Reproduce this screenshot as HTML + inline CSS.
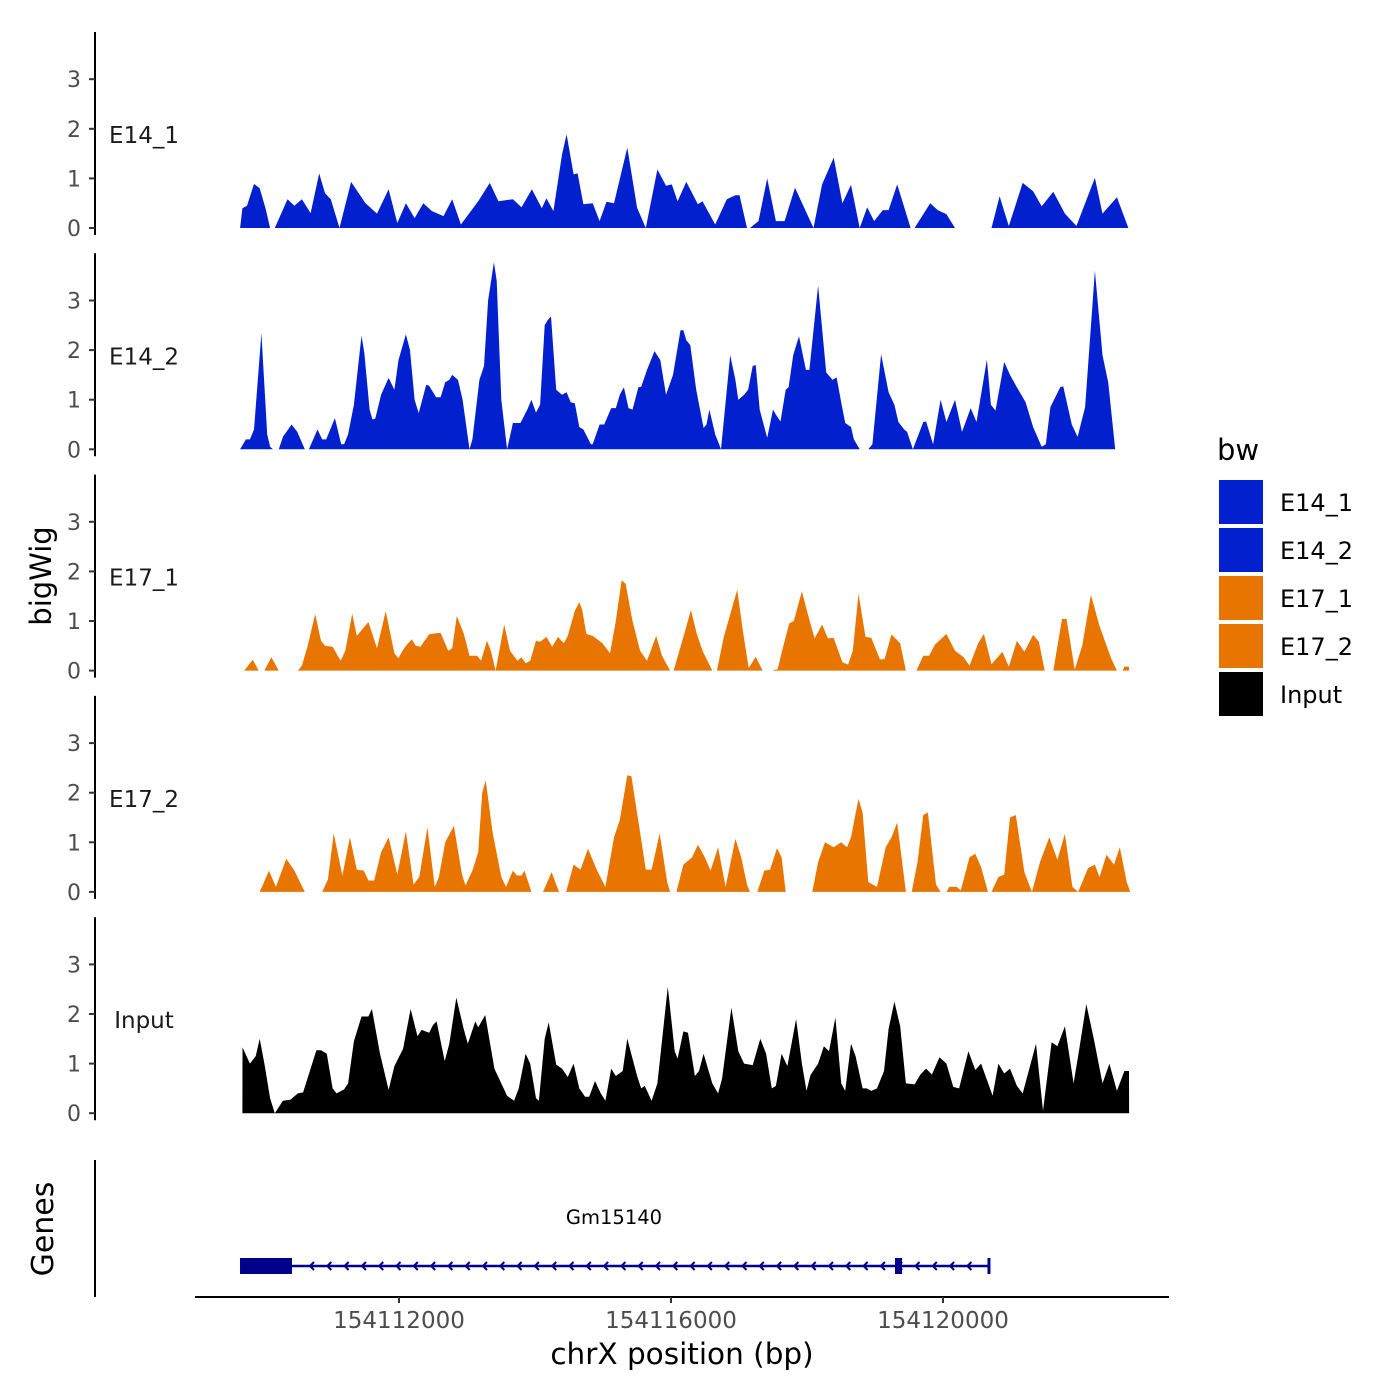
<!DOCTYPE html>
<html><head><meta charset="utf-8"><style>
body{margin:0;background:#fff}
svg{display:block;font-family:"DejaVu Sans","Liberation Sans",sans-serif}
</style></head><body>
<svg id="chart" width="1400" height="1400" viewBox="0 0 1400 1400" xmlns="http://www.w3.org/2000/svg">
<rect width="1400" height="1400" fill="#fff"/>
<g id="tracks"></g>
<g id="genes"></g>
<g id="xaxis"></g>
<text transform="translate(51,576) rotate(-90)" text-anchor="middle" font-size="29" fill="#000">bigWig</text>
<text transform="translate(53,1229) rotate(-90)" text-anchor="middle" font-size="30" fill="#000">Genes</text>
<text x="682" y="1364" text-anchor="middle" font-size="29.5" fill="#000">chrX position (bp)</text>
<g>
<text x="1217" y="460" font-size="29">bw</text>
<rect x="1219" y="480" width="44" height="44" fill="#0320CF"/>
<rect x="1219" y="528" width="44" height="44" fill="#0320CF"/>
<rect x="1219" y="576" width="44" height="44" fill="#E87500"/>
<rect x="1219" y="624" width="44" height="44" fill="#E87500"/>
<rect x="1219" y="672" width="44" height="44" fill="#000"/>
<text x="1280" y="511" font-size="24">E14_1</text>
<text x="1280" y="559" font-size="24">E14_2</text>
<text x="1280" y="607" font-size="24">E17_1</text>
<text x="1280" y="655" font-size="24">E17_2</text>
<text x="1280" y="703" font-size="24">Input</text>
</g>
</svg>
<script>
const CHR_BASE = 154000000;
const trackNames = ["E14_1","E14_2","E17_1","E17_2","Input"];
const trackColors = ["#0320CF","#0320CF","#E87500","#E87500","#000000"];
const yTicks = [0,1,2,3];
const xTicks = [154112000,154116000,154120000];
const xTickLabels = ["154112000","154116000","154120000"];
const geneName = "Gm15140";
const geneStart = 154109662, geneEnd = 154120676;
const geneExons = [[154109662,154110426],[154119294,154119397]];

const e14_1_pos=[109663,109697,109765,109867,109952,110037,110105,null,110173,110360,110462,110572,110700,110827,110912,110997,111125,111295,111507,111677,111847,111975,112102,112230,112357,112485,112655,112782,112910,113165,113335,113462,113675,113802,113955,114100,114168,114270,114397,114465,114567,114627,114712,114848,114950,115052,115162,115358,115502,115630,115800,115927,116012,116097,116225,116395,116463,116650,116820,116947,117007,117117,null,117160,117287,117415,117542,117670,117823,118095,118222,118392,118520,118647,118775,118885,118987,119115,119200,119327,119523,null,119582,119812,119922,120050,120177,null,120713,120832,120968,121172,121325,121452,121622,121792,121962,122234,122345,122557,122727];
const e14_1_val=[0,0.4,0.45,0.89,0.8,0.4,0,null,0,0.58,0.45,0.58,0.3,1.1,0.7,0.58,0,0.93,0.5,0.29,0.78,0.1,0.5,0.2,0.5,0.34,0.24,0.58,0.07,0.54,0.91,0.54,0.58,0.42,0.78,0.4,0.6,0.34,1.48,1.89,1.08,1.1,0.48,0.5,0.14,0.53,0.5,1.62,0.41,0,1.18,0.85,0.88,0.54,0.93,0.48,0.54,0.07,0.58,0.66,0.66,0,null,0,0.14,1.0,0.14,0.14,0.81,0,0.88,1.42,0.5,0.87,0,0.42,0.14,0.36,0.36,0.88,0,null,0,0.5,0.36,0.28,0,null,0,0.64,0.04,0.91,0.74,0.44,0.73,0.29,0.04,1.01,0.29,0.62,0];

const e14_2_pos=[109663,109748,109807,109867,109977,110062,110105,110147,null,110232,110292,110420,110505,110615,110675,110802,110870,110930,111057,111150,111193,111252,111337,111448,111490,111567,111610,111652,111737,111847,111932,111992,112102,112162,112230,112290,112400,112442,112545,112612,112680,112740,112782,112867,112935,113037,113080,113182,113250,113310,113395,113437,113505,113590,113675,113785,113887,113947,114015,114075,114142,114185,114236,114312,114397,114465,114525,114585,114652,114712,114822,114848,114950,115018,115120,115188,115247,115307,115375,115434,115520,115562,115647,115757,115842,115927,116030,116140,116182,116225,116284,116370,116480,116522,116565,116650,116735,116871,116947,116990,117075,117134,117202,117245,117304,117415,117500,117542,117610,117687,117730,117797,117882,117984,118035,118163,118282,118375,118435,118503,118562,118647,118690,118775,null,118902,118962,119090,119200,119285,119344,119430,119472,119557,119710,119752,119854,119965,120050,120177,120280,120407,120492,120645,120704,120772,120900,120985,121087,121214,121325,121452,121512,121580,121724,121767,121894,121980,122090,122234,122345,122430,122532];
const e14_2_val=[0,0.2,0.2,0.4,2.34,0.3,0.05,0,null,0,0.25,0.5,0.35,0,0,0.4,0.2,0.2,0.63,0.1,0.1,0.3,0.9,2.29,1.95,0.8,0.6,0.62,1.1,1.44,1.2,1.8,2.32,2.0,1.0,0.73,1.3,1.28,1.05,1.05,1.35,1.4,1.5,1.4,1.0,0,0.2,1.4,1.68,3.0,3.77,3.4,1.0,0,0.53,0.53,0.8,1.0,0.74,0.9,2.5,2.6,2.68,1.2,1.1,1.15,0.95,0.93,0.45,0.4,0.1,0.1,0.5,0.5,0.83,0.83,1.1,1.25,0.83,0.8,1.25,1.26,1.6,1.98,1.8,1.1,1.5,2.4,2.4,2.2,2.1,1.2,0.43,0.5,0.8,0.3,0,1.9,1.4,1.0,1.1,1.2,1.68,1.7,0.8,0.23,0.8,0.7,0.56,1.2,1.25,1.9,2.28,1.6,1.6,3.3,1.55,1.4,1.45,0.95,0.53,0.45,0.2,0,null,0,0.1,1.92,1.15,0.9,0.55,0.4,0.35,0,0.55,0.56,0.1,1.0,0.55,1.0,0.35,0.83,0.55,1.81,0.9,0.78,1.76,1.5,1.25,0.95,0.45,0.05,0.1,0.85,1.25,1.27,0.5,0.25,0.85,3.6,1.9,1.35,0];

const e17_1_pos=[109722,109850,109935,null,110020,110122,110232,null,110513,110572,110657,110768,110853,110912,111023,111142,111210,111312,111380,111550,111677,111737,111805,111932,111992,112043,112102,112187,112247,112315,112442,112527,112612,112723,112782,112850,112952,113037,113148,113207,113292,113352,113420,113547,113632,113743,113802,113862,113930,114015,114075,114168,114253,114338,114423,114482,114584,114652,114695,114754,114848,114992,115103,115188,115273,115332,115434,115545,115647,115783,115868,115987,null,116038,116123,116208,116293,116378,116463,116607,null,116675,116777,116973,117058,117143,117245,117347,null,117483,117568,117653,117738,117806,117925,118010,118112,118222,118307,118392,118520,118605,118673,118758,118860,118945,119072,119140,119242,119370,119455,null,119608,119710,119795,119880,120050,120177,120305,120390,120517,120602,120713,120874,120968,121087,121197,121325,121410,121495,null,121622,121750,121818,121937,122047,122175,122302,122472,122557,null,122642,122668,122736];
const e17_1_val=[0,0.22,0,null,0,0.27,0,null,0,0.1,0.5,1.14,0.6,0.5,0.48,0.2,0.4,1.15,0.7,0.98,0.45,0.8,1.2,0.35,0.25,0.38,0.5,0.63,0.5,0.48,0.73,0.75,0.76,0.4,0.45,1.1,0.75,0.3,0.3,0.2,0.6,0.4,0,0.93,0.4,0.2,0.27,0.15,0.2,0.6,0.58,0.68,0.48,0.68,0.55,0.7,1.2,1.38,1.22,0.74,0.7,0.55,0.35,1.0,1.82,1.75,1.0,0.4,0.2,0.7,0.3,0,null,0,0.4,0.8,1.22,0.75,0.4,0,null,0,0.68,1.63,0.8,0.05,0.28,0,null,0,0.03,0.5,0.95,1.0,1.6,1.15,0.65,0.93,0.65,0.66,0.17,0.12,0.4,1.55,0.68,0.66,0.23,0.23,0.73,0.55,0,null,0,0.3,0.3,0.52,0.74,0.4,0.27,0.1,0.55,0.74,0.13,0.38,0.08,0.6,0.38,0.72,0.58,0,null,0,1.04,1.04,0.02,0.5,1.53,0.9,0.25,0,null,0,0.08,0.08];

const e17_2_pos=[109952,110088,110190,110343,110462,110615,null,110870,110955,111040,111167,111278,111380,111482,111550,111635,111737,111847,111975,112102,112213,112298,112417,112527,112587,112680,112808,112927,112978,113080,113165,113224,113275,113377,113505,113573,113675,113734,113802,113845,113947,null,114117,114244,114355,null,114457,114567,114669,114780,114907,115035,115162,115247,115358,115417,115545,115630,115715,115834,115944,115987,null,116080,116182,116310,116395,116497,116582,116692,116803,116947,117032,117117,117160,null,117270,117372,117457,117559,117627,117687,null,118078,118163,118265,118392,118503,118588,118647,118758,118817,118902,119030,119157,119242,119327,119455,null,119540,119625,119710,119778,119897,119965,null,120050,120092,120203,120262,120390,120475,120560,120662,120713,120815,120900,120985,121070,121197,121308,121427,121563,121682,121792,121903,121988,122132,122234,122302,122404,122515,122600,122702,122753];
const e17_2_val=[0,0.43,0.1,0.67,0.43,0,null,0,0.25,1.18,0.33,1.1,0.45,0.43,0.23,0.23,0.8,1.1,0.35,1.22,0.15,0.3,1.3,0.1,0.3,1.0,1.33,0.35,0.13,0.43,0.8,2.0,2.25,1.2,0.3,0.1,0.43,0.33,0.33,0.43,0,null,0,0.4,0,null,0,0.55,0.45,0.87,0.45,0.1,1.1,1.45,2.35,2.33,1.2,0.45,0.45,1.18,0.2,0,null,0,0.55,0.7,0.95,0.7,0.43,0.9,0.1,1.07,0.7,0.15,0,null,0,0.43,0.45,0.88,0.7,0,null,0,0.6,1.0,0.9,1.0,0.9,1.1,1.88,1.6,0.2,0.1,0.9,1.1,1.4,0,null,0,0.6,1.55,1.6,0.15,0,null,0,0.1,0.1,0.03,0.7,0.77,0.5,0,0,0.3,0.35,1.5,1.55,0.4,0,0.6,1.1,0.65,1.17,0.1,0,0.48,0.55,0.3,0.75,0.55,0.9,0.2,0];

const input_pos=[109697,109698,109807,109892,109952,110020,110105,110173,110292,110402,110513,110590,110700,110785,110853,110938,111023,111082,111193,111252,111337,111448,111550,111601,111720,111847,111932,112060,112170,112272,112332,112442,112502,112553,112672,112740,112842,112952,113012,113122,113165,113267,113403,113505,113590,113692,113760,113862,113930,114015,114057,114142,114202,114312,114397,114482,114567,114652,114737,114797,114882,114967,115035,115120,115188,115290,115358,115502,115562,115613,115715,115800,115953,116055,116097,116182,116250,116352,116412,116480,116607,116692,116752,116888,116990,117075,117202,117313,117398,117483,117542,117627,117712,117840,117925,117993,118052,118163,118248,118324,118418,118503,118562,118647,118715,118817,118877,118945,119030,119132,119200,119285,119370,119455,119582,119667,119752,119837,119948,120050,120152,120237,120373,120475,120560,120730,120815,120900,120985,121087,121172,121367,121470,121597,121682,121792,121920,122005,122107,122217,122345,122447,122557,122668,122736,122737];
const input_val=[0,1.33,1.0,1.15,1.5,1.0,0.3,0,0.25,0.27,0.4,0.42,0.9,1.27,1.27,1.2,0.5,0.4,0.48,0.6,1.45,1.95,1.95,2.1,1.2,0.47,0.95,1.3,2.1,1.55,1.68,1.62,1.78,1.85,1.05,1.4,2.33,1.7,1.4,1.85,1.73,1.98,0.9,0.6,0.35,0.25,0.5,1.2,1.0,0.3,0.25,1.5,1.83,0.98,0.9,0.73,1.0,0.5,0.33,0.33,0.65,0.4,0.25,0.9,0.75,0.85,1.5,0.75,0.5,0.55,0.25,0.6,2.55,1.25,1.1,1.65,1.62,0.75,0.85,1.2,0.6,0.4,0.7,2.13,1.25,1.0,0.97,1.5,1.2,0.5,0.55,1.2,0.95,1.9,1.0,0.45,0.77,1.0,1.35,1.25,1.93,0.6,0.45,1.4,1.15,0.5,0.5,0.45,0.5,0.85,1.7,2.25,1.75,0.6,0.58,0.78,0.9,0.78,1.13,1.0,0.53,0.5,1.25,0.87,1.0,0.35,1.0,0.8,0.9,0.55,0.4,1.4,0.05,1.43,1.35,1.75,0.6,1.3,2.2,1.5,0.6,1.0,0.45,0.85,0.85,0];

const seriesPos=[e14_1_pos,e14_2_pos,e17_1_pos,e17_2_pos,input_pos];
const seriesVal=[e14_1_val,e14_2_val,e17_1_val,e17_2_val,input_val];

const NS="http://www.w3.org/2000/svg";
function mk(tag,attrs,parent){const e=document.createElementNS(NS,tag);for(const k in attrs)e.setAttribute(k,attrs[k]);parent.appendChild(e);return e;}
function xScale(bp){return 399+(bp-154112000)*0.068;}
function zeroY(i){return 228+i*221.3;}
function yScale(i,v){return zeroY(i)-v*49.6;}

const tracks=document.getElementById('tracks');
for(let i=0;i<trackNames.length;i++){
  const g=mk('g',{},tracks);
  
  
  const z=zeroY(i);
  const ax=mk('line',{x1:95,x2:95,y1:z-196,y2:z+7,stroke:'#000','stroke-width':2},g);
  
  
  yTicks.forEach(t=>{
    const y=yScale(i,t);
    const tk=mk('line',{x1:89,x2:95,y1:y,y2:y,stroke:'#333','stroke-width':2},g);
    
    
    const tl=mk('text',{x:81,y:y+8,'text-anchor':'end','font-size':22,fill:'#4d4d4d'},g);
    
    
    tl.textContent=t;
  });
  const lab=mk('text',{x:144,y:z-85,'text-anchor':'middle','font-size':23,fill:'#1a1a1a'},g);
  
  
  lab.textContent=trackNames[i];
  const P=seriesPos[i],V=seriesVal[i];
  let d='',seg=[];
  const flush=()=>{if(seg.length){d+='M'+seg[0][0].toFixed(1)+','+z;seg.forEach(p=>d+='L'+p[0].toFixed(1)+','+p[1].toFixed(1));d+='L'+seg[seg.length-1][0].toFixed(1)+','+z+'Z';}seg=[];};
  for(let k=0;k<P.length;k++){
    if(P[k]===null||V[k]===null){flush();continue;}
    seg.push([xScale(P[k]+CHR_BASE),yScale(i,V[k])]);
  }
  flush();
  const area=mk('path',{d:d,fill:trackColors[i]},g);
  
  
}

const gg=document.getElementById('genes');
const gax=mk('line',{x1:95,x2:95,y1:1160,y2:1297,stroke:'#000','stroke-width':2},gg);


const gy=1266;
const gl=mk('line',{x1:xScale(geneStart),x2:xScale(geneEnd),y1:gy,y2:gy,stroke:'#00008B','stroke-width':2.5},gg);


let chev='';
for(let x=xScale(geneStart)+70;x<xScale(geneEnd)-8;x+=17.3){chev+='M'+(x+4)+','+(gy-4)+'L'+x+','+gy+'L'+(x+4)+','+(gy+4);}
const ch=mk('path',{d:chev,fill:'none',stroke:'#00008B','stroke-width':2},gg);


geneExons.forEach(e=>{
  const r=mk('rect',{x:xScale(e[0]),y:gy-8,width:Math.max(6,xScale(e[1])-xScale(e[0])),height:16,fill:'#00008B'},gg);
  
  
});
const et=mk('line',{x1:xScale(geneEnd),x2:xScale(geneEnd),y1:gy-8,y2:gy+8,stroke:'#00008B','stroke-width':3},gg);


const gn=mk('text',{x:614,y:1224,'text-anchor':'middle','font-size':19.5,fill:'#000'},gg);


gn.textContent=geneName;

const xa=document.getElementById('xaxis');
const xl=mk('line',{x1:195,x2:1169,y1:1297,y2:1297,stroke:'#000','stroke-width':2},xa);


xTicks.forEach((t,j)=>{
  const x=xScale(t);
  const tk=mk('line',{x1:x,x2:x,y1:1297,y2:1303,stroke:'#333','stroke-width':2},xa);
  
  
  const tl=mk('text',{x:x,y:1328,'text-anchor':'middle','font-size':23,fill:'#4d4d4d'},xa);
  
  
  tl.textContent=xTickLabels[j];
});
</script>
</body></html>
